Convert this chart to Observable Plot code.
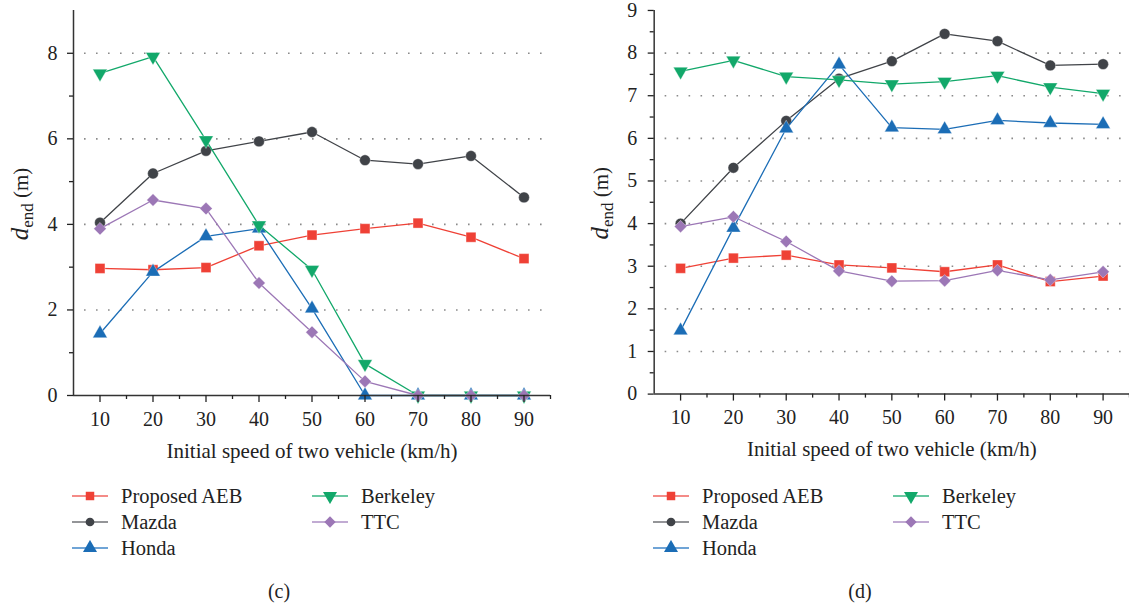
<!DOCTYPE html>
<html>
<head>
<meta charset="utf-8">
<script src="https://cdn.jsdelivr.net/npm/d3@7"></script>
<script src="https://cdn.jsdelivr.net/npm/@observablehq/plot@0.6"></script>
<style>
  html, body { margin: 0; padding: 0; background: #fff; }
  body { width: 1129px; height: 604px; overflow: hidden; font-family: "Liberation Serif", "DejaVu Serif", serif; color: #222; }
  #wrap { position: relative; width: 1129px; height: 604px; }
  .panel { position: absolute; top: 0; height: 604px; overflow: hidden; }
  .leg { position: absolute; display: flex; align-items: center; font-size: 20.5px; white-space: nowrap; height: 24px; }
  .leg svg { display: block; }
  .cap { position: absolute; font-size: 20px; transform: translate(-50%, -50%); }
</style>
</head>
<body>
<div id="wrap"></div>
<script>
// ---------- data ----------
const speeds = [10, 20, 30, 40, 50, 60, 70, 80, 90];
const seriesNames = ["Proposed AEB", "Mazda", "Honda", "Berkeley", "TTC"];
const seriesColors = ["#ef4136", "#404348", "#1b6db6", "#12a86a", "#9c77b6"];
const legendLineColors = ["#f0645f", "#707276", "#3f86c8", "#37b682", "#ad8fc4"];

// panel (c)
const cAEB      = [2.97, 2.94, 2.99, 3.50, 3.75, 3.90, 4.03, 3.70, 3.20];
const cMazda    = [4.04, 5.19, 5.72, 5.94, 6.16, 5.50, 5.41, 5.60, 4.63];
const cHonda    = [1.45, 2.89, 3.72, 3.90, 2.03, 0.00, 0.00, 0.00, 0.00];
const cBerkeley = [7.53, 7.92, 5.97, 3.98, 2.94, 0.74, 0.00, 0.00, 0.00];
const cTTC      = [3.90, 4.57, 4.37, 2.63, 1.48, 0.33, 0.00, 0.00, 0.00];

// panel (d)
const dAEB      = [2.95, 3.19, 3.26, 3.03, 2.96, 2.87, 3.03, 2.64, 2.77];
const dMazda    = [4.00, 5.31, 6.41, 7.40, 7.81, 8.45, 8.28, 7.71, 7.74];
const dHonda    = [1.49, 3.90, 6.23, 7.73, 6.25, 6.21, 6.42, 6.36, 6.33];
const dBerkeley = [7.57, 7.83, 7.45, 7.37, 7.27, 7.33, 7.47, 7.20, 7.05];
const dTTC      = [3.93, 4.16, 3.58, 2.89, 2.65, 2.66, 2.90, 2.68, 2.87];

const xTicks = speeds;
const xMinorTicks = [15, 25, 35, 45, 55, 65, 75, 85, 95];
const cYTicks = [0, 2, 4, 6, 8];
const cYMinor = [1, 3, 5, 7];
const cGrid = [2, 4, 6, 8];
const dYTicks = [0, 1, 2, 3, 4, 5, 6, 7, 8, 9];
const dYMinor = [0.5, 1.5, 2.5, 3.5, 4.5, 5.5, 6.5, 7.5, 8.5];
const dGrid = [1, 2, 3, 4, 5, 6, 7, 8];
const xTitle = "Initial speed of two vehicle (km/h)";

// ---------- symbols ----------
const sqrt3 = Math.sqrt(3);
const symTriUp = {
  draw(ctx, size) {
    const y = -Math.sqrt(size / (sqrt3 * 3));
    ctx.moveTo(0, y * 2); ctx.lineTo(-sqrt3 * y, -y); ctx.lineTo(sqrt3 * y, -y); ctx.closePath();
  }
};
const symTriDown = {
  draw(ctx, size) {
    const y = -Math.sqrt(size / (sqrt3 * 3));
    ctx.moveTo(0, -y * 2); ctx.lineTo(-sqrt3 * y, y); ctx.lineTo(sqrt3 * y, y); ctx.closePath();
  }
};
const symSquare = {
  draw(ctx, size) {
    const w = Math.sqrt(size), h = w / 2;
    ctx.moveTo(-h, -h); ctx.lineTo(h, -h); ctx.lineTo(h, h); ctx.lineTo(-h, h); ctx.closePath();
  }
};
const symDiamond = {
  draw(ctx, size) {
    const h = Math.sqrt(size) / Math.SQRT2;
    ctx.moveTo(0, -h); ctx.lineTo(h, 0); ctx.lineTo(0, h); ctx.lineTo(-h, 0); ctx.closePath();
  }
};
const symbols = [symSquare, "circle", symTriUp, symTriDown, symDiamond];
const radii = [5.6, 5.4, 5.4, 5.4, 5.0];

function tidy(valueLists) {
  return valueLists.map((vals, i) => vals.map((v, j) => ({ speed: speeds[j], value: v, series: seriesNames[i] })));
}

function makeChart({ width, marginLeft, marginRight, rows, yTicks, yMinor, grid, tickPadY }) {
  const marks = [
    Plot.ruleY(grid, { stroke: "#8a8a8a", strokeWidth: 1.6, strokeDasharray: "1.6,10.4", strokeDashoffset: -11 }),
  ];
  rows.forEach((r, i) => {
    marks.push(Plot.line(r, { x: "speed", y: "value", stroke: seriesColors[i], strokeWidth: 1.3 }));
    marks.push(Plot.dot(r, { x: "speed", y: "value", symbol: symbols[i], r: radii[i], fill: seriesColors[i], stroke: "white", strokeOpacity: 0.45, strokeWidth: 0.8 }));
  });
  marks.push(
    Plot.ruleX([5], { stroke: "#333", strokeWidth: 1.5 }),
    Plot.ruleY([0], { stroke: "#333", strokeWidth: 1.5 }),
    Plot.axisY(yTicks, { tickSize: 6, tickPadding: tickPadY, label: null, strokeWidth: 1.3, fontSize: 20 }),
    Plot.axisY(yMinor, { tickSize: 4, tickFormat: () => "", label: null, strokeWidth: 1.3 }),
    Plot.axisX(xTicks, { tickSize: 7, tickPadding: 9, label: null, strokeWidth: 1.3, fontSize: 20 }),
    Plot.axisX(xMinorTicks, { tickSize: 4, tickFormat: () => "", label: null, strokeWidth: 1.3 }),
    Plot.text([xTitle], { frameAnchor: "bottom", dy: 62, fontSize: 21, fill: "#222" })
  );
  return Plot.plot({
    width, height: 465,
    marginLeft, marginRight, marginTop: 10, marginBottom: 70,
    x: { domain: [5, 95] },
    y: { domain: [0, 9] },
    style: { fontFamily: "'Liberation Serif', 'DejaVu Serif', serif", fontSize: "20px", color: "#222", background: "transparent", overflow: "visible" },
    marks
  });
}

function addYLabel(svg, x, y) {
  const t = d3.select(svg).append("text")
    .attr("transform", `translate(${x},${y}) rotate(-90)`)
    .attr("text-anchor", "middle")
    .attr("fill", "#222")
    .attr("font-family", "'Liberation Serif', 'DejaVu Serif', serif")
    .attr("font-size", 21);
  t.append("tspan").attr("font-style", "italic").attr("font-size", 25).text("d");
  t.append("tspan").attr("font-size", 17).attr("dy", 5).text("end");
  t.append("tspan").attr("dy", -5).text(" (m)");
}

function legendSwatch(i) {
  const s = d3.create("svg").attr("width", 36).attr("height", 16);
  s.append("line").attr("x1", 0).attr("x2", 36).attr("y1", 8).attr("y2", 8)
    .attr("stroke", legendLineColors[i]).attr("stroke-width", 1.4);
  const sizes = [72, 60, 85, 85, 64];
  const sym = symbols[i] === "circle" ? d3.symbolCircle : symbols[i];
  s.append("path").attr("transform", "translate(18,8)")
    .attr("d", d3.symbol(sym, sizes[i])())
    .attr("fill", seriesColors[i]);
  return s.node();
}

function buildPanel({ left, width, svgWidth, marginLeft, marginRight, rows, yTicks, yMinor, grid, tickPadY, ylabelX, caption }) {
  const panel = document.createElement("div");
  panel.className = "panel";
  panel.style.left = left + "px";
  panel.style.width = width + "px";
  document.getElementById("wrap").appendChild(panel);
  const svg = makeChart({ width: svgWidth, marginLeft, marginRight, rows, yTicks, yMinor, grid, tickPadY });
  svg.style.position = "absolute";
  svg.style.left = "0px";
  svg.style.top = "0px";
  addYLabel(svg, ylabelX, 204);
  panel.appendChild(svg);

  const axis = marginLeft;
  const cols = [[0, 1, 2], [3, 4]];
  const colX = [axis - 1, axis + 239];
  const rowY = [496, 522, 548];
  cols.forEach((col, ci) => {
    col.forEach((si, ri) => {
      const item = document.createElement("div");
      item.className = "leg";
      item.style.left = colX[ci] + "px";
      item.style.top = (rowY[ri] - 12) + "px";
      item.appendChild(legendSwatch(si));
      const label = document.createElement("span");
      label.style.marginLeft = "13px";
      label.textContent = seriesNames[si];
      item.appendChild(label);
      panel.appendChild(item);
    });
  });
  const cap = document.createElement("div");
  cap.className = "cap";
  cap.style.left = (axis + 206) + "px";
  cap.style.top = "591px";
  cap.textContent = caption;
  panel.appendChild(cap);
}

buildPanel({
  left: 0, width: 564, svgWidth: 564, marginLeft: 73, marginRight: 14,
  rows: tidy([cAEB, cMazda, cHonda, cBerkeley, cTTC]),
  yTicks: cYTicks, yMinor: cYMinor, grid: cGrid, tickPadY: 10, ylabelX: 28, caption: "(c)"
});
buildPanel({
  left: 564, width: 565, svgWidth: 567, marginLeft: 90, marginRight: 0,
  rows: tidy([dAEB, dMazda, dHonda, dBerkeley, dTTC]),
  yTicks: dYTicks, yMinor: dYMinor, grid: dGrid, tickPadY: 11, ylabelX: 44, caption: "(d)"
});
</script>
</body>
</html>
